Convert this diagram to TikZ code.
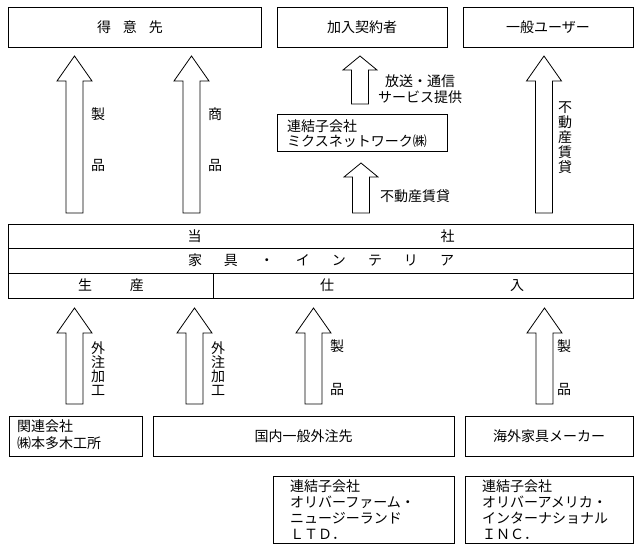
\documentclass[tikz,border=0pt]{standalone}
\usepackage{fontspec}
\setmainfont{Noto Sans CJK JP}
\newcommand{\blkarrow}[6]{% name, x center, y tip, y head base, y bottom, head half width
  \draw[blkarr] ({#2-8.5},#5) coordinate (#1-b) -- ({#2-8.5},#4) -- ({#2-#6},#4) -- (#2,#3) coordinate (#1-t)
    -- ({#2+#6},#4) -- ({#2+8.5},#4) -- ({#2+8.5},#5) -- cycle;}
\begin{document}
\begin{tikzpicture}[x=1pt,y=-1pt,
  every node/.style={font=\fontsize{14pt}{16pt}\selectfont, inner sep=0pt},
  box/.style={draw, line width=0.8pt, anchor=north west},
  blkarr/.style={draw, line width=0.8pt, line join=miter, fill=white},
  vlab/.style={align=center, font=\fontsize{14pt}{14pt}\selectfont},
  lab/.style={anchor=center}]
\useasboundingbox[fill=white] (0,0) rectangle (637,549);

% top boxes
\node[box, minimum width=253pt, minimum height=40pt] (tokui) at (8,7) {};
\node at (130,27) (tokuit) {得\hspace{12pt}意\hspace{12pt}先};
\node[box, minimum width=170pt, minimum height=40pt] (kanyu) at (277,7) {};
\node at (362,27) (kanyut) {加入契約者};
\node[box, minimum width=170pt, minimum height=40pt] (ippan) at (463,7) {};
\node at (548,27) (ippant) {一般ユーザー};

% mix network box
\node[box, minimum width=170pt, minimum height=37pt] (mix) at (277,114) {};
\node[anchor=west, align=left, font=\fontsize{14pt}{15pt}\selectfont] (mixt) at (287,134) {連結子会社\\ミクスネットワーク㈱};

% company bars
\node[box, minimum width=625pt, minimum height=24pt] (tosha) at (8,224) {};
\node (toshat) at (321,236) {当\hspace{239pt}社};
\node[box, minimum width=625pt, minimum height=25pt] (kagu) at (8,248) {};
\node (kagut) at (321,260.5) {家\hspace{22pt}具\hspace{22pt}・\hspace{22pt}イ\hspace{22pt}ン\hspace{22pt}テ\hspace{22pt}リ\hspace{22pt}ア};
\node[box, minimum width=205pt, minimum height=25pt] (seisan) at (8,273) {};
\node (seisant) at (111,285.5) {生\hspace{38pt}産};
\node[box, minimum width=420pt, minimum height=25pt] (shiire) at (213,273) {};
\node (shiiret) at (422,285.5) {仕\hspace{176pt}入};

% bottom boxes
\node[box, minimum width=133pt, minimum height=40pt] (honda) at (9,416) {};
\node[anchor=west, align=left, font=\fontsize{14pt}{17pt}\selectfont] (hondat) at (17,435) {関連会社\\㈱本多木工所};
\node[box, minimum width=301pt, minimum height=40pt] (kokunai) at (153,416) {};
\node (kokunait) at (303.5,436) {国内一般外注先};
\node[box, minimum width=168pt, minimum height=40pt] (kaigai) at (465,416) {};
\node (kaigait) at (549,436) {海外家具メーカー};
\node[box, minimum width=181pt, minimum height=67pt] (nz) at (273,476) {};
\node[anchor=west, align=left, font=\fontsize{14pt}{16pt}\selectfont] (nzt) at (290,510) {連結子会社\\オリバーファーム・\\ニュージーランド\\ＬＴＤ．};
\node[box, minimum width=168pt, minimum height=67pt] (us) at (465,476) {};
\node[anchor=west, align=left, font=\fontsize{14pt}{16pt}\selectfont] (ust) at (482,510) {連結子会社\\オリバーアメリカ・\\インターナショナル\\ＩＮＣ．};

% upper arrows
\blkarrow{a1}{74.5}{56}{81}{213}{17.5}
\blkarrow{a2}{191.5}{56}{81}{213}{17.5}
\blkarrow{a3}{360}{56}{70}{104}{17}
\blkarrow{a4}{361}{163}{177}{213}{17}
\blkarrow{a5}{544}{56}{81}{213}{17.5}
% lower arrows
\blkarrow{b1}{74.5}{308}{333}{404}{17.5}
\blkarrow{b2}{194.5}{308}{333}{404}{17.5}
\blkarrow{b3}{313.5}{308}{333}{404}{17.5}
\blkarrow{b4}{544.5}{308}{333}{404}{17.5}

% arrow labels
\node (l1a) at (98,114) {製};
\node (l1b) at (98,165) {品};
\node (l2a) at (215,114) {商};
\node (l2b) at (215,165) {品};
\node[align=center, font=\fontsize{14pt}{16pt}\selectfont] (l3) at (420,89) {放送・通信\\サービス提供};
\node[anchor=west] (l4) at (380,196) {不動産賃貸};
\node[vlab, font=\fontsize{14pt}{15pt}\selectfont] (l5) at (565,138) {不\\動\\産\\賃\\貸};
\node[vlab] (m1) at (98,369) {外\\注\\加\\工};
\node[vlab] (m2) at (218,369) {外\\注\\加\\工};
\node (m3a) at (337,346) {製};
\node (m3b) at (337,389) {品};
\node (m4a) at (564,346) {製};
\node (m4b) at (564,389) {品};
\end{tikzpicture}
\end{document}
